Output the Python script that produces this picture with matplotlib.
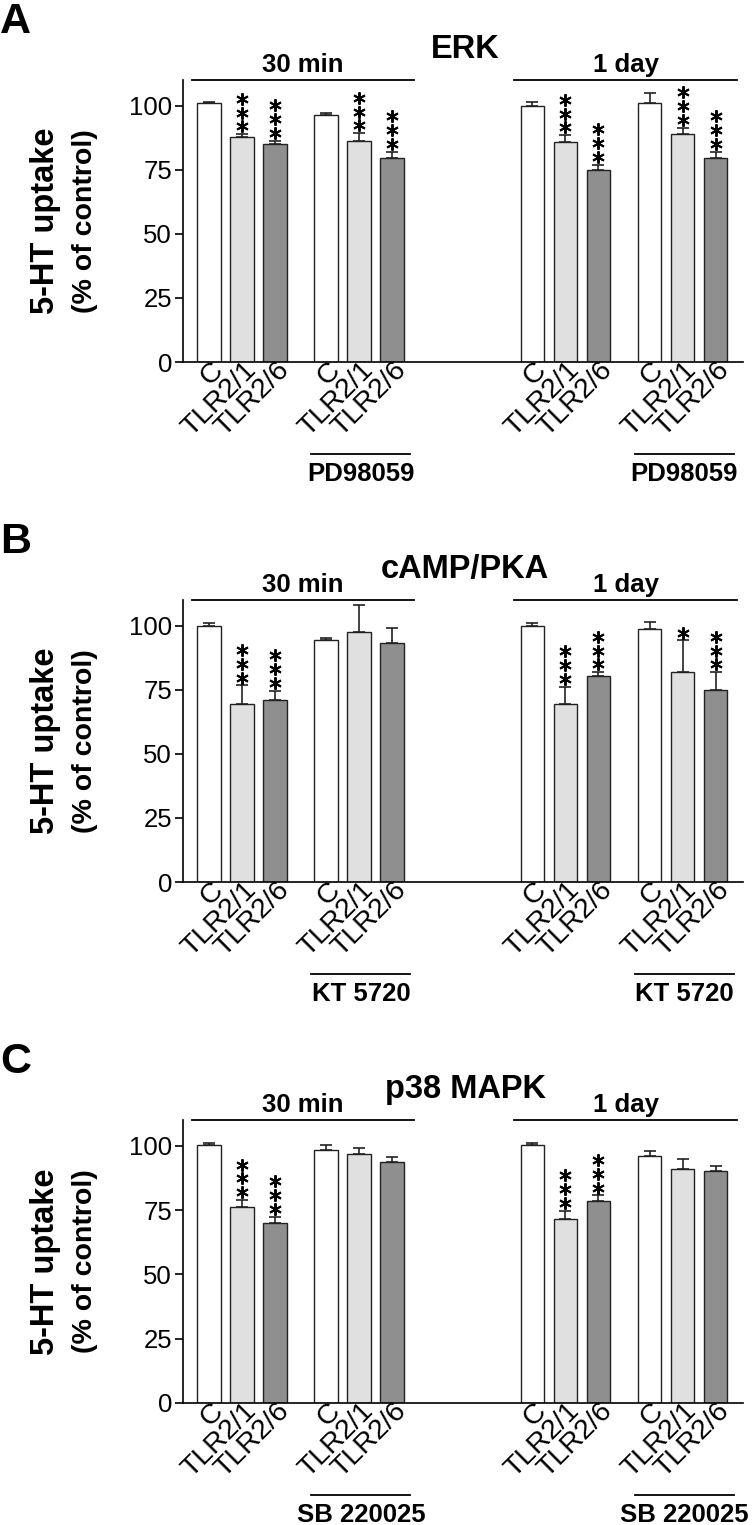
import matplotlib
matplotlib.use("Agg")
from matplotlib import pyplot as plt
from matplotlib import transforms

plt.rcParams['font.family'] = ['Liberation Sans', 'DejaVu Sans']

# bar order: C, TLR2/1, TLR2/6 | +inhibitor | 1 day C, TLR2/1, TLR2/6 | +inhibitor
groups = ["C", "TLR2/1", "TLR2/6"] * 4
positions = [0, 1, 2, 3.55, 4.55, 5.55, 9.8, 10.8, 11.8, 13.35, 14.35, 15.35]
colors = ["white", "#e0e0e0", "#8f8f8f"] * 4

titles = ["ERK", "cAMP/PKA", "p38 MAPK"]
letters = ["A", "B", "C"]
inhibitors = ["PD98059", "KT 5720", "SB 220025"]
times = ["30 min", "1 day"]

erk_mean = [101.0, 87.6, 85.0, 96.2, 86.4, 79.5, 100.0, 85.9, 74.7, 101.0, 88.9, 79.5]
erk_err = [0.5, 1.3, 1.4, 1.0, 2.9, 2.6, 1.6, 2.6, 2.2, 3.9, 2.5, 2.6]
erk_stars = [0, 3, 3, 0, 3, 3, 0, 3, 3, 0, 3, 3]

pka_mean = [100.0, 69.3, 71.1, 94.3, 97.5, 93.2, 100.0, 69.3, 80.5, 98.7, 81.9, 75.0]
pka_err = [1.0, 7.4, 3.5, 0.8, 10.4, 5.7, 1.0, 6.9, 1.4, 2.9, 12.4, 6.9]
pka_stars = [0, 3, 3, 0, 0, 0, 0, 3, 3, 0, 1, 3]

p38_mean = [100.1, 76.0, 70.1, 98.2, 96.8, 93.5, 100.1, 71.4, 78.6, 96.2, 90.9, 90.0]
p38_err = [0.9, 2.9, 2.3, 1.9, 2.4, 2.3, 0.9, 3.3, 2.1, 1.9, 4.0, 2.3]
p38_stars = [0, 3, 3, 0, 0, 0, 0, 3, 3, 0, 0, 0]

means = [erk_mean, pka_mean, p38_mean]
errs = [erk_err, pka_err, p38_err]
stars = [erk_stars, pka_stars, p38_stars]

W, H = 753, 1525
fig = plt.figure(figsize=(W / 100, H / 100), dpi=100)

# axes boxes in pixels: (top, bottom)
boxes = [(80, 362), (600, 882), (1120, 1403)]
ax_left, ax_right = 183, 743

for i in range(3):
    top, bot = boxes[i]
    ax = fig.add_axes([ax_left / W, (H - bot) / H, (ax_right - ax_left) / W, (bot - top) / H])

    ax.bar(positions, means[i], width=0.72, color=colors, edgecolor="#222222", linewidth=1.0, zorder=2)
    ax.errorbar(positions, means[i], yerr=[[0] * 12, errs[i]], fmt="none", ecolor="#222222",
                elinewidth=1.2, capsize=4.5, capthick=1.2, zorder=1)

    # significance asterisks stacked above the error bars
    for x, m, e, n in zip(positions, means[i], errs[i], stars[i]):
        for k in range(n):
            tr = transforms.offset_copy(ax.transData, fig=fig, x=0, y=5.5 + 10 * k, units="points")
            ax.plot(x, m + e, marker=(6, 2, 0), markersize=9, markeredgewidth=1.4,
                    color="black", transform=tr, clip_on=False)

    ax.set_xlim(-0.79, 16.18)
    ax.set_ylim(0, 110)
    ax.set_yticks([0, 25, 50, 75, 100])
    ax.spines["top"].set_visible(False)
    ax.spines["right"].set_visible(False)
    ax.spines["left"].set_linewidth(1.2)
    ax.spines["bottom"].set_linewidth(1.2)
    ax.tick_params(axis="y", length=6, width=1.2, labelsize=18.5, pad=2)
    ax.tick_params(axis="x", length=0, pad=3)
    ax.set_xticks(positions, groups, rotation=45, ha="right", va="center",
                  rotation_mode="anchor", fontsize=20.5)
    shift = transforms.ScaledTranslation(10 / 100, 0, fig.dpi_scale_trans)
    for lab in ax.get_xticklabels():
        lab.set_transform(lab.get_transform() + shift)

    # time point bars and labels above the plot
    for t, (a, b) in zip(times, [(positions[0] - 0.52, positions[5] + 0.65),
                                  (positions[6] - 0.56, positions[11] + 0.65)]):
        ax.plot([a, b], [110, 110], color="black", lw=1.3, clip_on=False)
        ax.annotate(t, xy=((a + b) / 2, 110), xytext=(0, 5.5), textcoords="offset points",
                    ha="center", va="baseline", fontsize=18.5, fontweight="bold")

    ax.annotate(titles[i], xy=(7.76, 110), xytext=(0, 16), textcoords="offset points",
                ha="center", va="baseline", fontsize=23.5, fontweight="bold")

    # inhibitor lines below the tick labels
    for g in (3, 9):
        a, b = positions[g] - 0.45, positions[g + 2] + 0.55
        ax.plot([a, b], [-0.326 * 110, -0.326 * 110], color="black", lw=1.3, clip_on=False)
        ax.text((a + b) / 2, -0.421 * 110, inhibitors[i], ha="center", va="baseline",
                fontsize=18.5, fontweight="bold")

    # y label, two lines
    fig.text(61 / W, (H - (top + bot) / 2) / H, "5-HT uptake", rotation=90, ha="right",
             va="center", fontsize=23.5, fontweight="bold")
    fig.text(98 / W, (H - (top + bot) / 2) / H, "(% of control)", rotation=90, ha="right",
             va="center", fontsize=20.5, fontweight="bold")

    # panel letter
    fig.text(0, (H - top + 47) / H, letters[i], ha="left", va="baseline",
             fontsize=31, fontweight="bold")

fig.savefig("out.png", dpi=100)
